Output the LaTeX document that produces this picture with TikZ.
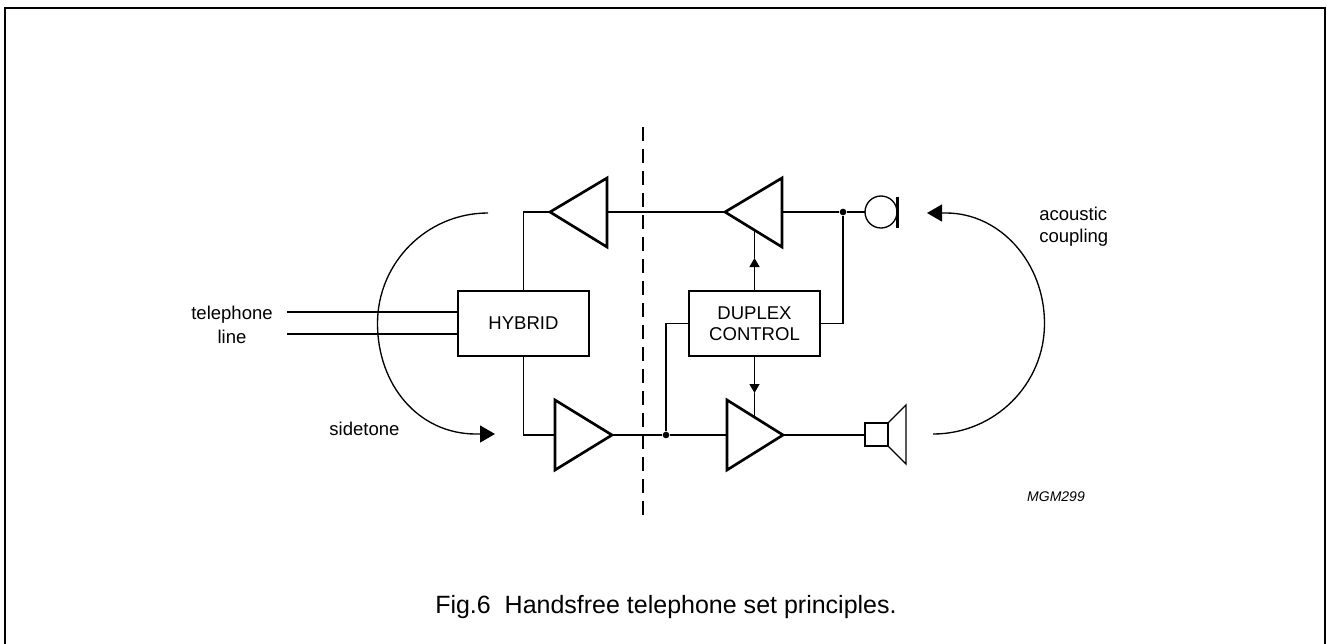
\documentclass[tikz,border=0pt]{standalone}
\usepackage{fontspec}
\setmainfont{Liberation Sans}
\usetikzlibrary{arrows.meta}
\newcommand\lblfont{\fontsize{13.9}{16.5}\selectfont}
\newcommand\capfont{\fontsize{18.75}{22}\selectfont}
\newcommand\tagfont{\fontsize{10.5}{12}\selectfont\itshape}
\begin{document}
\begin{tikzpicture}[x=0.75pt,y=-0.75pt,
  wire/.style={line width=1pt},
  blk/.style={draw, line width=2pt, rectangle, minimum width=98.25pt, minimum height=48.75pt, inner sep=0pt, align=center, font=\lblfont},
  amp/.style={line width=2pt, line join=miter},
  bigtip/.style={wire, -{Triangle[length=11.25pt,width=12.75pt]}},
  smalltip/.style={wire, -{Triangle[length=6.75pt,width=7.5pt]}},
  jdot/.style={fill, circle, inner sep=0pt, minimum size=5pt},
  txt/.style={inner sep=0pt, font=\lblfont},
]
\useasboundingbox (0,0) rectangle (1327,643);
% frame
\draw[line width=1.5pt] (5,660) -- (5,8) -- (1325,8) -- (1325,660);

% boxes
\node[blk] (hyb) at (523.5,323.5) {HYBRID};
\node[blk] (dup) at (754.5,323.5) {DUPLEX\\[-0.5pt]CONTROL};

% amplifier triangles
\coordinate (tlTip) at (550,212);  \coordinate (tlBase) at (607,212);
\coordinate (trTip) at (725,212);  \coordinate (trBase) at (782,212);
\coordinate (blIn) at (555,435);   \coordinate (blTip) at (612,435);
\coordinate (brIn) at (727,435);   \coordinate (brTip) at (783,435);
\draw[amp] (607,178) -- (607,247) -- (tlTip) -- cycle;
\draw[amp] (782,178) -- (782,247) -- (trTip) -- cycle;
\draw[amp] (555,400) -- (555,470) -- (blTip) -- cycle;
\draw[amp] (727,400) -- (727,470) -- (brTip) -- cycle;

% junction dots
\node[jdot] (dotT) at (843,212) {};
\node[jdot] (dotB) at (666,435) {};

% microphone
\coordinate (micL) at (865,212);
\draw[wire] (881,212) circle[radius=16];
\draw[line width=2.5pt] (897.5,197) -- (897.5,228);

% loudspeaker
\coordinate (spkL) at (865,435);
\draw[wire] (865,423) rectangle (888,446);
\draw[wire] (888,423) -- (906,405) -- (906,464) -- (888,446);

% telephone line
\coordinate (tel1) at (287,312);
\coordinate (tel2) at (287,334);
\draw[wire] (tel1) -- (tel1 -| hyb.west);
\draw[wire] (tel2) -- (tel2 -| hyb.west);

% signal paths
\draw[wire] (hyb.north) -- (hyb.north |- tlTip) -- (tlTip);
\draw[wire] (hyb.south) -- (hyb.south |- blIn) -- (blIn);
\draw[wire] (tlBase) -- (trTip);
\draw[wire] (trBase) -- (dotT) -- (micL);
\draw[wire] (blTip) -- (dotB) -- (brIn);
\draw[wire] (brTip) -- (spkL);
\draw[wire] (dotB) |- (dup.west);
\draw[wire] (dup.east) -| (dotT);

% control arrows
\coordinate (upTip) at (755,258);
\coordinate (trEdge) at (755,230.5);
\coordinate (dnTip) at (755,393);
\coordinate (brEdge) at (755,417.5);
\draw[smalltip] (dup.north) -- (dup.north |- upTip);
\draw[wire] (dup.north |- upTip) -- (dup.north |- trEdge);
\draw[smalltip] (dup.south) -- (dup.south |- dnTip);
\draw[wire] (dup.south |- dnTip) -- (dup.south |- brEdge);

% dashed divider
\coordinate (divTop) at (643,127);
\coordinate (divBot) at (643,515);
\draw[line width=1.2pt, dash pattern=on 10.5pt off 6pt] (divTop) -- (divBot);

% sidetone arc
\coordinate (sdStart) at (488,213);
\coordinate (sdEnd) at (495,434);
\draw[bigtip] (sdStart) .. controls (427,213) and (377.5,262.5) .. (377.5,323.5)
  .. controls (377.5,384.5) and (418,434) .. (476,434) -- (sdEnd);

% acoustic coupling arc
\coordinate (acStart) at (933,434);
\coordinate (acEnd) at (927,213);
\draw[bigtip] (acStart) .. controls (994.5,434) and (1044.5,384.5) .. (1044.5,323.5)
  .. controls (1044.5,262.5) and (1000,213) .. (946,213) -- (acEnd);

% texts
\node[txt, align=center] (telTxt) at (232,325) {telephone\\[1.5pt]line};
\node[txt] (sideTxt) at (364.5,429) {sidetone};
\node[txt, align=left, anchor=west] (acTxt) at (1039,227) {acoustic\\[0pt]coupling};
\node[inner sep=0pt, font=\tagfont] (tag) at (1056,497) {MGM299};
\node[inner sep=0pt, font=\capfont, anchor=base west] (cap) at (435,613) {Fig.6\ \ Handsfree telephone set principles.};
\end{tikzpicture}
\end{document}
